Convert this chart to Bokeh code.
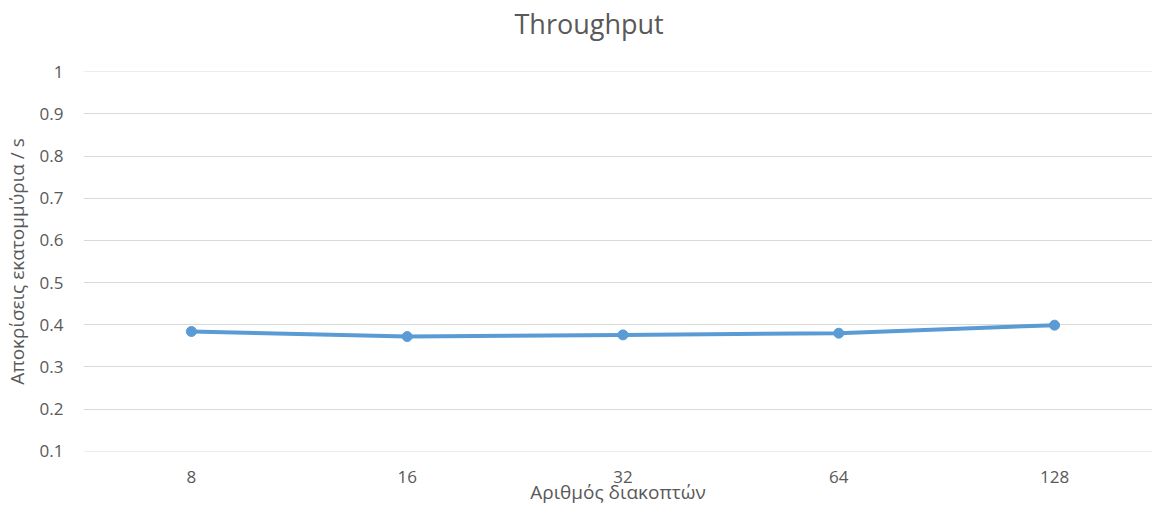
from bokeh.plotting import figure
from bokeh.models import Range1d, FixedTicker, Title
from bokeh.embed import file_html
from bokeh.resources import INLINE

categories = ["8", "16", "32", "64", "128"]
throughput = [0.384, 0.372, 0.376, 0.380, 0.399]
y_ticks = [0.1, 0.2, 0.3, 0.4, 0.5, 0.6, 0.7, 0.8, 0.9, 1.0]
y_tick_labels = ["0.1", "0.2", "0.3", "0.4", "0.5", "0.6", "0.7", "0.8", "0.9", "1"]
title_text = "Throughput"

FONT = "Open Sans"
TXT = "#595959"
BLUE = "#5B9BD5"

xs = list(range(len(categories)))

p = figure(width=1152, height=507, output_backend="svg", toolbar_location=None,
           x_range=Range1d(-0.5, 4.454), y_range=Range1d(0.0995, 1.0005),
           min_border_left=81, min_border_right=0, min_border_top=71, min_border_bottom=56,
           title=None)
p.outline_line_color = None
p.background_fill_color = "white"
p.border_fill_color = "white"

# spacer between frame and title (keeps the title near the top edge)
p.add_layout(Title(text=" ", text_font_size="1px", standoff=25), "above")
p.add_layout(Title(text=title_text, align="left", offset=431, standoff=4,
                   text_font=FONT, text_font_size="27px", text_font_style="normal",
                   text_color=TXT), "above")

p.line(xs, throughput, line_color=BLUE, line_width=4)
p.scatter(xs, throughput, size=10, fill_color=BLUE, line_color=BLUE)

p.xaxis.ticker = FixedTicker(ticks=xs)
p.xaxis.major_label_overrides = {i: c for i, c in enumerate(categories)}
p.yaxis.ticker = FixedTicker(ticks=y_ticks)
p.yaxis.major_label_overrides = {t: l for t, l in zip(y_ticks, y_tick_labels)}

for ax in (p.xaxis[0], p.yaxis[0]):
    ax.axis_line_color = None
    ax.major_tick_line_color = None
    ax.minor_tick_line_color = None
    ax.major_label_text_color = TXT
    ax.major_label_text_font = FONT
    ax.major_label_text_font_size = "17px"
    ax.axis_label_text_color = TXT
    ax.axis_label_text_font = FONT
    ax.axis_label_text_font_size = "19px"
    ax.axis_label_text_font_style = "normal"

p.xaxis.axis_label = "Αριθμός διακοπτών"
p.xaxis.major_label_standoff = 13
p.xaxis.axis_label_standoff = -7
p.yaxis.axis_label = "Αποκρίσεις εκατομμύρια / s"
p.yaxis.major_label_standoff = 14
p.yaxis.axis_label_standoff = 7

p.xgrid.grid_line_color = None
p.ygrid.grid_line_color = "#D9D9D9"
p.ygrid.grid_line_width = 1

open("out.html", "w").write(file_html(p, INLINE))
